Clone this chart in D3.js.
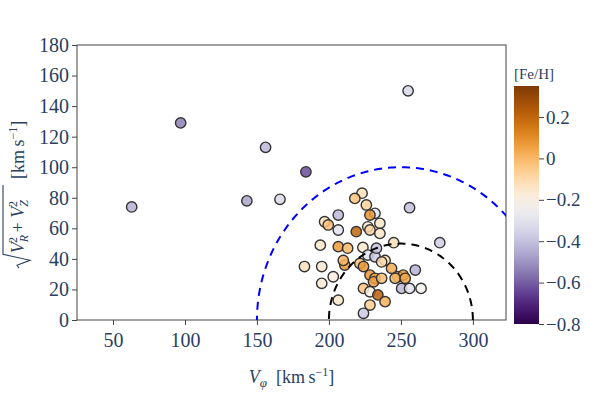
<!DOCTYPE html>
<html>
<head>
<meta charset="utf-8">
<script src="https://cdn.jsdelivr.net/npm/d3@7"></script>
<style>
  body { margin: 0; background: #fff; }
  svg text { font-family: "Liberation Serif", "Times New Roman", serif; fill: #2a3f5f; }
</style>
</head>
<body>
<div id="container"></div>
<script>
/* Data: V_phi, sqrt(VR^2+VZ^2), [Fe/H] */
var vphi = [63, 97, 156, 143, 166, 184, 255, 256, 277, 260,
            223, 218, 226, 206.5, 232, 228.5, 197, 199.5, 206.5, 219,
            227, 228.5, 235.4, 235.4, 206.5, 213, 223.6, 194, 245, 227,
            232, 233, 211, 210, 221.5, 224, 195, 183, 203, 228.5,
            232, 231, 224, 228.5, 234, 228.5, 224, 206.5, 195, 239,
            236.6, 243.5, 248, 251.6, 246, 253, 250.5, 256, 264, 236.6, 239];
var vperp = [74, 129, 113, 78, 79, 97, 150, 73.5, 50.6, 32.7,
             83, 79.6, 75.3, 68.7, 69.8, 68.7, 64.3, 62.2, 58.9, 57.8,
             61, 58.9, 63.3, 56.7, 48, 47, 47.5, 49, 50.6, 42.5,
             41.4, 47, 36, 39, 37, 35, 35, 35, 28.3, 29.4,
             27.3, 25, 20.7, 18.5, 16.4, 9.8, 4.4, 13, 24, 39,
             38, 33.8, 28.3, 29.4, 27.3, 27.3, 20.7, 20.7, 20.7, 27.3, 12];
var feh = [-0.44, -0.54, -0.42, -0.47, -0.33, -0.63, -0.34, -0.4, -0.37, -0.44,
           -0.12, -0.03, -0.07, -0.42, -0.3, 0.08, -0.13, -0.02, -0.3, 0.2,
           -0.17, -0.08, -0.14, -0.15, 0.07, 0.0, -0.15, -0.15, -0.12, -0.3,
           -0.38, -0.4, 0.08, 0.0, -0.02, 0.07, -0.16, -0.13, -0.18, 0.08,
           0.05, 0.06, -0.03, -0.2, 0.22, -0.06, -0.38, -0.15, -0.17, -0.12,
           -0.1, 0.03, 0.07, 0.08, 0.0, 0.04, -0.42, -0.3, -0.23, -0.02, 0.02];

var xTicks = [50, 100, 150, 200, 250, 300];
var yTicks = [0, 20, 40, 60, 80, 100, 120, 140, 160, 180];
var cbTicks = [-0.8, -0.6, -0.4, -0.2, 0, 0.2];

// reference circles: centre V_phi, radius
var circles = [{cx: 250, r: 100, color: "#0000ff"}, {cx: 250, r: 50, color: "#000"}];

var serif = '"Liberation Serif", "Times New Roman", serif';
var w = 598, h = 396;
var margin = {left: 77, right: 92, top: 45, bottom: 76};
var plotW = w - margin.left - margin.right,
    plotH = h - margin.top - margin.bottom;

var svg = d3.select("#container").append("svg")
    .attr("width", w)
    .attr("height", h);

var xScale = d3.scaleLinear().domain([25, 323]).range([0, plotW]);
var yScale = d3.scaleLinear().domain([0, 180]).range([plotH, 0]);

// purple for metal-poor, orange/brown for metal-rich
var color = d3.scaleSequential(d3.interpolatePuOr).domain([-0.8, 0.35]);

var g = svg.append("g")
    .attr("transform", "translate(" + margin.left + "," + margin.top + ")");

svg.append("defs").append("clipPath").attr("id", "clip")
  .append("rect").attr("width", plotW).attr("height", plotH);

/* axes */
var xAxis = d3.axisBottom(xScale).tickValues(xTicks).tickSize(5).tickPadding(8);
var yAxis = d3.axisLeft(yScale).tickValues(yTicks).tickSize(5).tickPadding(3);

g.append("g").attr("class", "xaxis")
  .attr("transform", "translate(0," + plotH + ")")
  .call(xAxis);
g.append("g").attr("class", "yaxis").call(yAxis);

g.selectAll(".xaxis, .yaxis").attr("font-family", serif).attr("font-size", 20);
g.selectAll(".xaxis text, .yaxis text")
  .attr("fill", "#2a3f5f");
g.selectAll(".xaxis .tick line, .yaxis .tick line").attr("stroke", "#444");
g.selectAll(".domain").remove();

// frame box
g.append("rect")
  .attr("width", plotW).attr("height", plotH)
  .attr("fill", "none").attr("stroke", "#444").attr("stroke-width", 1);

/* points */
var pts = vphi.map((v, i) => ({x: v, y: vperp[i], c: feh[i]}));

g.append("g").attr("clip-path", "url(#clip)")
  .selectAll("circle").data(pts).enter().append("circle")
  .attr("cx", d => xScale(d.x))
  .attr("cy", d => yScale(d.y))
  .attr("r", 5.2)
  .attr("fill", d => color(d.c))
  .attr("fill-opacity", 0.85)
  .attr("stroke", "#333")
  .attr("stroke-width", 1.4);

/* dashed half circles */
var lineG = g.append("g").attr("clip-path", "url(#clip)");
circles.forEach(function(c) {
  var arc = d3.range(0, 181).map(a => {
    var t = a * Math.PI / 180;
    return [c.cx + c.r * Math.cos(t), c.r * Math.sin(t)];
  });
  lineG.append("path")
    .datum(arc)
    .attr("fill", "none")
    .attr("stroke", c.color)
    .attr("stroke-width", 2)
    .attr("stroke-dasharray", "8,6")
    .attr("d", d3.line().x(d => xScale(d[0])).y(d => yScale(d[1])));
});

/* x title */
var xt = svg.append("text")
  .attr("x", margin.left + plotW / 2)
  .attr("y", 383)
  .attr("text-anchor", "middle")
  .style("font-size", "18px");
xt.append("tspan").style("font-style", "italic").text("V");
xt.append("tspan").attr("dy", 4).style("font-size", "13px").style("font-style", "italic").text("φ");
xt.append("tspan").attr("dy", -4).text("\u2002[km\u2009s");
xt.append("tspan").attr("dy", -7).style("font-size", "12px").text("−1");
xt.append("tspan").attr("dy", 7).text("]");

/* y title, rotated */
var yt = svg.append("g").attr("transform", "translate(24," + (margin.top + plotH / 2 + 12) + ") rotate(-90)");
var rad = yt.append("text").attr("y", 0).style("font-size", "18px");
rad.append("tspan").style("font-style", "italic").text("V");
rad.append("tspan").attr("dy", 4).style("font-size", "12px").style("font-style", "italic").text("R");
rad.append("tspan").attr("dy", -11).attr("dx", -8).style("font-size", "12px").text("2");
rad.append("tspan").attr("dy", 7).text(" + ");
rad.append("tspan").style("font-style", "italic").text("V");
rad.append("tspan").attr("dy", 4).style("font-size", "12px").style("font-style", "italic").text("Z");
rad.append("tspan").attr("dy", -11).attr("dx", -7).style("font-size", "12px").text("2");
var unit = yt.append("text").attr("y", 0).style("font-size", "18px");
unit.append("tspan").text("[km\u2009s");
unit.append("tspan").attr("dy", -7).style("font-size", "12px").text("−1");
unit.append("tspan").attr("dy", 7).text("]");

var radW = rad.node().getComputedTextLength(),
    unitW = unit.node().getComputedTextLength(),
    signW = 15, gap = 7;
var total = signW + radW + gap + unitW, x0 = -total / 2;
yt.append("path")
  .attr("d", "M" + x0 + ",-5 L" + (x0 + 3) + ",-7 L" + (x0 + 8) + ",6 L" + (x0 + 14) + ",-21 L" + (x0 + signW + radW + 1) + ",-21")
  .attr("fill", "none").attr("stroke", "#2a3f5f").attr("stroke-width", 1.1);
rad.attr("x", x0 + signW);
unit.attr("x", x0 + signW + radW + gap);

/* colorbar */
var cbX = 514, cbW = 25, cbTop = 86, cbBot = 324;
var cbScale = d3.scaleLinear().domain([-0.8, 0.35]).range([cbBot, cbTop]);
var grad = svg.select("defs").append("linearGradient")
  .attr("id", "cbgrad").attr("x1", 0).attr("y1", 1).attr("x2", 0).attr("y2", 0);
d3.range(0, 1.0001, 0.05).forEach(t => {
  grad.append("stop").attr("offset", t).attr("stop-color", color(-0.8 + t * 1.15));
});
svg.append("rect")
  .attr("x", cbX).attr("y", cbTop).attr("width", cbW).attr("height", cbBot - cbTop)
  .attr("fill", "url(#cbgrad)");

var cbAxis = d3.axisRight(cbScale).tickValues(cbTicks).tickSize(5).tickPadding(2)
  .tickFormat(d3.format(""));
var cbG = svg.append("g").attr("transform", "translate(" + (cbX + cbW) + ",0)").call(cbAxis);
cbG.attr("font-family", serif).attr("font-size", 19);
cbG.select(".domain").remove();
cbG.selectAll("line").attr("stroke", "#444");
cbG.selectAll("text").attr("fill", "#2a3f5f");

svg.append("text")
  .attr("x", cbX)
  .attr("y", 79)
  .style("font-size", "15px")
  .text("[Fe/H]");
</script>
</body>
</html>
